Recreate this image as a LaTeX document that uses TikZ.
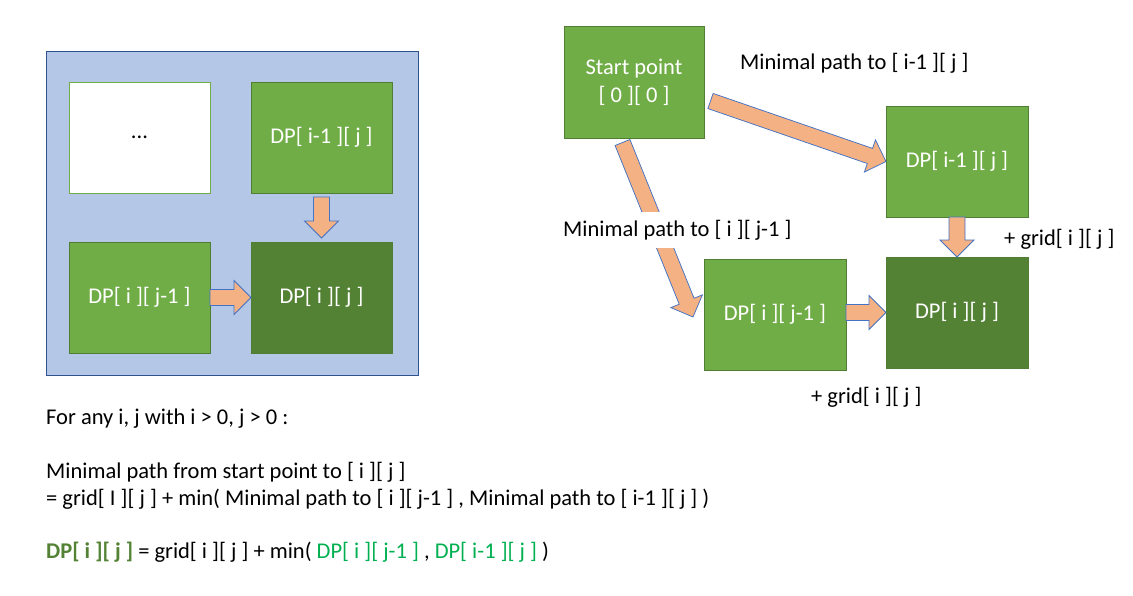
\documentclass[tikz,border=0pt]{standalone}
\usepackage{fontspec}
\setmainfont{Carlito}
\usetikzlibrary{positioning,calc}

\definecolor{panelfill}{HTML}{B4C7E7}
\definecolor{panelline}{HTML}{2F528F}
\definecolor{boxfill}{HTML}{70AD47}
\definecolor{boxline}{HTML}{507E32}
\definecolor{darkfill}{HTML}{548235}
\definecolor{arrowfill}{HTML}{F4B183}
\definecolor{arrowline}{HTML}{4472C4}
\definecolor{greentext}{HTML}{00B050}

\tikzset{
  cell/.style={draw=boxline, fill=boxfill, text=white, line width=0.75pt,
    minimum width=141pt, minimum height=111pt, inner sep=0pt, outer sep=0pt},
  dpcell/.style={cell, fill=darkfill},
  blankcell/.style={cell, fill=white, draw=boxfill, text=black},
  note/.style={inner sep=0pt, anchor=base west},
  lbl/.style={inner xsep=2pt, inner ysep=8pt, anchor=base west, fill=white},
  blkarrow/.style={draw=arrowline, fill=arrowfill, line width=0.75pt,
    to path={
      ($(\tikztostart)!8pt!90:(\tikztotarget)$)
      -- ($($(\tikztotarget)!17pt!(\tikztostart)$)!8pt!90:(\tikztotarget)$)
      -- ($($(\tikztotarget)!17pt!(\tikztostart)$)!17pt!90:(\tikztotarget)$)
      -- (\tikztotarget)
      -- ($($(\tikztotarget)!17pt!(\tikztostart)$)!17pt!-90:(\tikztotarget)$)
      -- ($($(\tikztotarget)!17pt!(\tikztostart)$)!8pt!-90:(\tikztotarget)$)
      -- ($(\tikztostart)!8pt!-90:(\tikztotarget)$) -- cycle}}
}

\begin{document}
\begin{tikzpicture}[x=1pt,y=-1pt,font=\fontsize{22.5}{28}\selectfont]
	\useasboundingbox (0,0) rectangle (1133,595);

	% left panel
	\node[draw=panelline, fill=panelfill, line width=1pt, minimum width=372pt,
	  minimum height=324pt, inner sep=0pt] (panel) at (232,213) {};
	\node[blankcell] (dots) at (139.5,137.5) {...};
	\node[cell, right=41pt of dots] (pim) {DP[ i-1 ][ j ]};
	\node[cell, below=49pt of dots] (pijm) {DP[ i ][ j-1 ]};
	\node[dpcell, below=49pt of pim] (pij) {DP[ i ][ j ]};

	\draw[blkarrow] ([yshift=-4pt]pim.south) to ([yshift=4pt]pij.north);
	\draw[blkarrow] (pijm.east) to (pij.west);

	% right side
	\node[cell, minimum width=140pt, minimum height=112pt, align=center] (start) at (634,82)
	  {Start point\\{}[ 0 ][ 0 ]};
	\node[dpcell, minimum width=142pt] (pijR) at (957,312.5) {DP[ i ][ j ]};
	\node[cell, minimum width=142pt, above=40pt of pijR] (pimR) {DP[ i-1 ][ j ]};
	\node[cell, minimum width=142pt] (pijmR) at (775,314.5) {DP[ i ][ j-1 ]};

	\draw[blkarrow] ([shift={(6.5,19)}]start.east) to (pimR.west);
	\draw[blkarrow] ([shift={(-11.5,4.5)}]start.south) to ([shift={(-11,2.5)}]pijmR.west);
	\draw[blkarrow] (pimR.south) to (pijR.north);
	\draw[blkarrow] (pijmR.east |- pijR.west) to (pijR.west);

	\node[lbl, fill=none] (toup) at (738,69) {Minimal path to [ i-1 ][ j ]};
	\node[lbl] (toleft) at (561,236) {Minimal path to [ i ][ j-1 ]};
	\node[note] (gridup) at (1004,245) {+ grid[ i ][ j ]};
	\node[note] (gridleft) at (811,403) {+ grid[ i ][ j ]};

	% formula
	\node[note] (forany) at (46,424) {For any i, j with i > 0, j > 0 :};
	\node[note] (minpath) at (46,478) {Minimal path from start point to [ i ][ j ]};
	\node[note] (recur) at (46,505) {= grid[ I ][ j ] + min( Minimal path to [ i ][ j-1 ] , Minimal path to [ i-1 ][ j ] )};
	\node[note] (dprecur) at (46,558) {\textcolor{darkfill}{\bfseries DP[ i ][ j ]} = grid[ i ][ j ] + min( \textcolor{greentext}{DP[ i ][ j-1 ]} , \textcolor{greentext}{DP[ i-1 ][ j ]} )};
\end{tikzpicture}
\end{document}
